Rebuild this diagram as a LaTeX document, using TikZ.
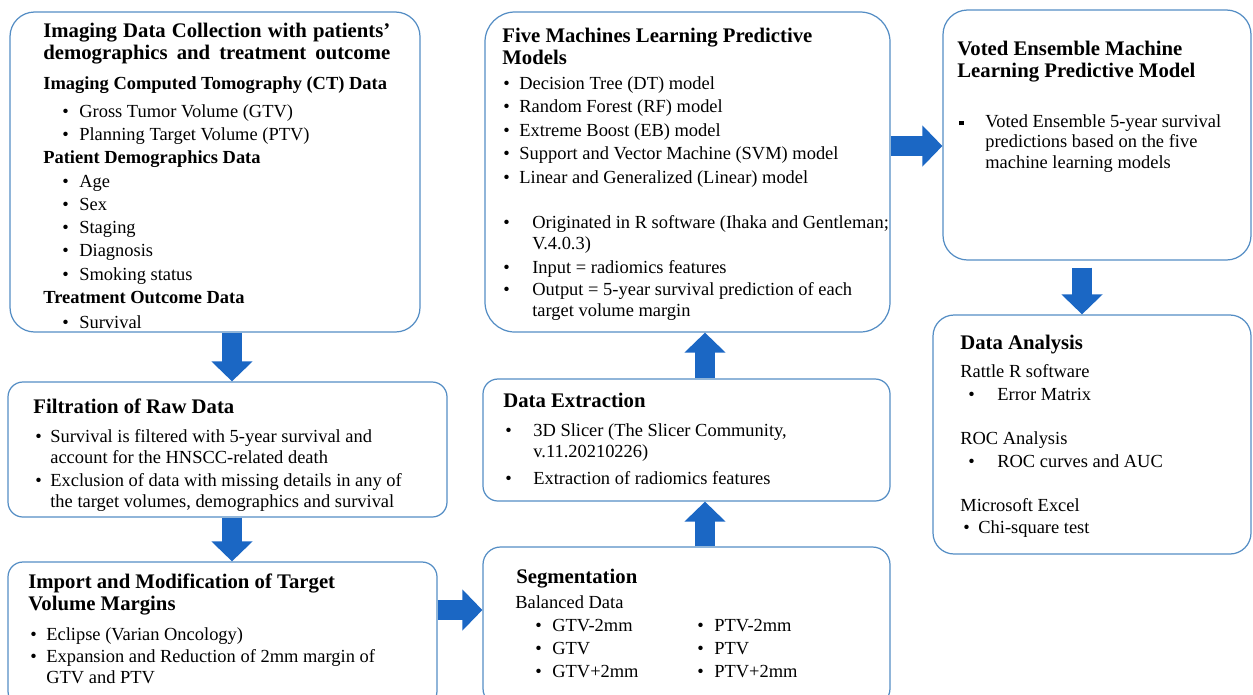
\documentclass[tikz,border=0pt]{standalone}
\usepackage{fontspec}
\setmainfont{Liberation Serif}
\usetikzlibrary{arrows.meta, fit}

\definecolor{boxblue}{RGB}{84,141,196}
\definecolor{arrowblue}{RGB}{27,103,196}

\newcommand{\bl}[1]{\makebox[#1][l]{\textbullet}}
\newcommand{\ind}[1]{\hspace*{#1}}
\newcommand{\sqb}[1]{\makebox[#1][l]{\raisebox{0.3ex}{\rule{0.09cm}{0.09cm}}}}

\begin{document}
\begin{tikzpicture}[
  x=0.02cm, y=-0.02cm,
  box/.style={draw=boxblue, line width=0.7pt, inner sep=0pt, rounded corners=#1},
  box/.default=8pt,
  head/.style={anchor=base west, inner sep=0pt, align=left, font=\fontsize{11.8}{12.5}\selectfont\bfseries},
  sub/.style={anchor=base west, inner sep=0pt, font=\fontsize{10.5}{11.4}\selectfont\bfseries},
  txt/.style={anchor=base west, inner sep=0pt, align=left, font=\fontsize{10.5}{11.4}\selectfont},
  bigarrow/.style={draw=arrowblue, line width=0.4cm, -{Triangle[width=0.8cm,length=0.4cm]}}
]
  \useasboundingbox (0,0) rectangle (1253,694);

  % boxes
  \node[box=14pt, fit={(10,12) (420,332)}] (img) {};
  \node[box=17pt, fit={(485,12) (890,332)}] (ml) {};
  \node[box=14pt, fit={(943,10) (1251,260)}] (vote) {};
  \node[box=12pt, fit={(933,315) (1251,554)}] (da) {};
  \node[box=8.5pt, fit={(8,382) (447,517)}] (filt) {};
  \node[box=8.5pt, fit={(8,562) (437,706)}] (imp) {};
  \node[box=8.5pt, fit={(483,379) (890,501)}] (de) {};
  \node[box=10pt, fit={(483,547) (890,706)}] (seg) {};

  % imaging data collection (multi-line nodes sit on their last line)
  \node[head] (imgT) at (43,59) {\makebox[6.94cm][s]{Imaging Data Collection with patients'}\\
    \makebox[6.94cm][s]{demographics and treatment outcome}};
  \node[sub] (ctT) at (43,89) {Imaging Computed Tomography (CT) Data};
  \foreach \t [count=\i from 0] in {Gross Tumor Volume (GTV), Planning Target Volume (PTV)}
    \node[txt] (ct\i) at (62,117+23.2*\i) {\bl{0.34cm}\t};
  \node[sub] (demoT) at (43,163) {Patient Demographics Data};
  \foreach \t [count=\i from 0] in {Age, Sex, Staging, Diagnosis, Smoking status}
    \node[txt] (demo\i) at (62,187+23.3*\i) {\bl{0.34cm}\t};
  \node[sub] (outT) at (43,303) {Treatment Outcome Data};
  \node[txt] (out) at (62,328) {\bl{0.34cm}Survival};

  % five models
  \node[head] (mlT) at (502,64) {Five Machines Learning Predictive\\Models};
  \foreach \t [count=\i from 0] in {Decision Tree (DT) model, Random Forest (RF) model,
      Extreme Boost (EB) model, Support and Vector Machine (SVM) model,
      Linear and Generalized (Linear) model}
    \node[txt] (mod\i) at (503,89+23.5*\i) {\bl{0.32cm}\t};
  \node[txt] (orig) at (503,249) {\bl{0.58cm}Originated in R software (Ihaka and Gentleman;\\\ind{0.58cm}V.4.0.3)};
  \node[txt] (inp) at (503,273) {\bl{0.58cm}Input = radiomics features};
  \node[txt] (outp) at (503,316) {\bl{0.58cm}Output = 5-year survival prediction of each\\\ind{0.58cm}target volume margin};

  % voted ensemble
  \node[head] (voteT) at (957,77) {Voted Ensemble Machine\\Learning Predictive Model};
  \node[txt] (voteB) at (959,168) {\sqb{0.52cm}Voted Ensemble 5-year survival\\\ind{0.52cm}predictions based on the five\\\ind{0.52cm}machine learning models};

  % data analysis
  \node[head] (daT) at (960,349) {Data Analysis};
  \node[txt] (rat) at (960,377) {Rattle R software};
  \node[txt] (err) at (968,400) {\bl{0.58cm}Error Matrix};
  \node[txt] (roc) at (960,444) {ROC Analysis};
  \node[txt] (auc) at (968,467) {\bl{0.58cm}ROC curves and AUC};
  \node[txt] (xl) at (960,511) {Microsoft Excel};
  \node[txt] (chi) at (963,533) {\bl{0.3cm}Chi-square test};

  % filtration
  \node[head] (filtT) at (33,413) {Filtration of Raw Data};
  \node[txt] (surv) at (35,463) {\bl{0.3cm}Survival is filtered with 5-year survival and\\\ind{0.3cm}account for the HNSCC-related death};
  \node[txt] (excl) at (35,507) {\bl{0.3cm}Exclusion of data with missing details in any of\\\ind{0.3cm}the target volumes, demographics and survival};

  % import
  \node[head] (impT) at (28,610) {Import and Modification of Target\\Volume Margins};
  \node[txt] (ecl) at (30,640) {\bl{0.32cm}Eclipse (Varian Oncology)};
  \node[txt] (exp) at (30,683) {\bl{0.32cm}Expansion and Reduction of 2mm margin of\\\ind{0.32cm}GTV and PTV};

  % data extraction
  \node[head] (deT) at (503,407) {Data Extraction};
  \node[txt] (slic) at (505,457) {\bl{0.56cm}3D Slicer (The Slicer Community,\\\ind{0.56cm}v.11.20210226)};
  \node[txt] (rad) at (505,484) {\bl{0.56cm}Extraction of radiomics features};

  % segmentation
  \node[head] (segT) at (516,583) {Segmentation};
  \node[txt] (bal) at (515,608) {Balanced Data};
  \foreach \t [count=\i from 0] in {GTV-2mm, GTV, GTV+2mm}
    \node[txt] (gtv\i) at (535,631+23*\i) {\bl{0.34cm}\t};
  \foreach \t [count=\i from 0] in {PTV-2mm, PTV, PTV+2mm}
    \node[txt] (ptv\i) at (697,631+23*\i) {\bl{0.34cm}\t};

  % arrows
  \draw[bigarrow] (232,0 |- img.south) -- (232,0 |- filt.north);
  \draw[bigarrow] (232,0 |- filt.south) -- (232,0 |- imp.north);
  \draw[bigarrow] (imp.east |- 0,610) -- (seg.west |- 0,610);
  \draw[bigarrow] (705,0 |- seg.north) -- (705,0 |- de.south);
  \draw[bigarrow] (705,0 |- de.north) -- (705,0 |- ml.south);
  \draw[bigarrow] (ml.east |- 0,146) -- (vote.west |- 0,146);
  \draw[bigarrow, shorten <=0.14cm] (1082,0 |- vote.south) -- (1082,0 |- da.north);
\end{tikzpicture}
\end{document}
